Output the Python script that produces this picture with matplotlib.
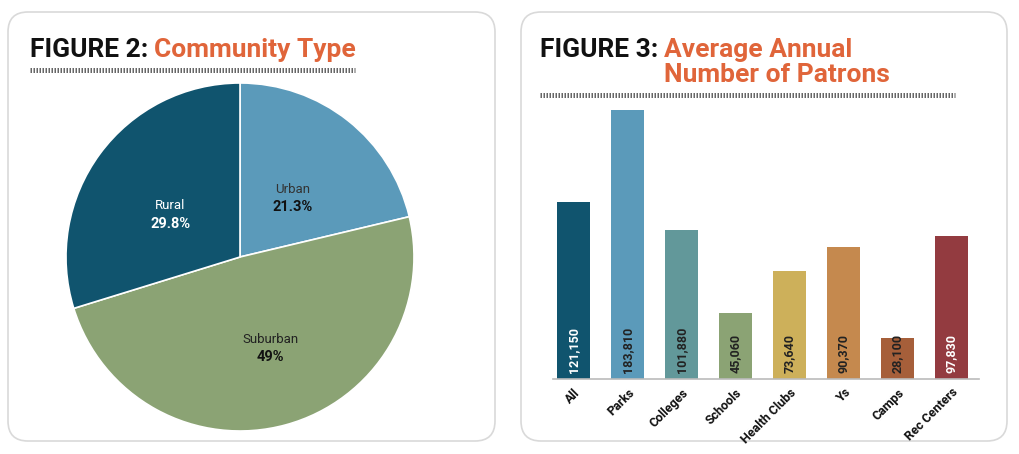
import matplotlib
matplotlib.use("Agg")
import matplotlib.pyplot as plt
from matplotlib.patches import FancyBboxPatch
from matplotlib.lines import Line2D
import numpy as np

plt.rcParams['font.family'] = ['Roboto', 'DejaVu Sans']
plt.rcParams['lines.scale_dashes'] = False

# ---- data ----
pie_labels = ["Urban", "Suburban", "Rural"]
pie_values = [21.3, 49.0, 29.8]
pie_pct_text = ["21.3%", "49%", "29.8%"]
pie_colors = ["#5b9aba", "#8ba374", "#10546e"]
pie_name_colors = ["#333333", "#222222", "#ffffff"]
pie_pct_colors = ["#111111", "#111111", "#ffffff"]

bar_categories = ["All", "Parks", "Colleges", "Schools", "Health Clubs", "Ys", "Camps", "Rec Centers"]
bar_values = [121150, 183810, 101880, 45060, 73640, 90370, 28100, 97830]
bar_colors = ["#10546e", "#5b9aba", "#62989a", "#8ba374", "#cdb05a", "#c5894e", "#a65f3a", "#933b40"]
bar_label_colors = ["#ffffff", "#222222", "#222222", "#222222", "#222222", "#222222", "#222222", "#ffffff"]

W, H = 1020, 454
fig = plt.figure(figsize=(W / 100, H / 100), dpi=100)
fig.patch.set_facecolor("white")

def px_axes(x0, y0, x1, y1):
    return fig.add_axes([x0 / W, 1 - y1 / H, (x1 - x0) / W, (y1 - y0) / H])

# panel boxes
for (x0, y0, x1, y1) in [(8, 12, 495, 441), (521, 12, 1007, 441)]:
    box = FancyBboxPatch((x0 / 100, (H - y1) / 100), (x1 - x0) / 100, (y1 - y0) / 100,
                         boxstyle="round,pad=0,rounding_size=0.2",
                         transform=fig.dpi_scale_trans, facecolor="none",
                         edgecolor="#d9d9d9", linewidth=1.2, zorder=-1)
    fig.patches.append(box)

orange = "#e0653a"
title_font = ['Roboto', 'DejaVu Sans']
title_fs = 19

def fig_text(xp, yp, s, **kw):
    return fig.text(xp / W, 1 - yp / H, s, **kw)

renderer = fig.canvas.get_renderer()

def title_pair(x0, y0, black, orange_lines):
    t = fig_text(x0, y0, black, fontsize=title_fs, fontweight="bold", color="#111111",
                 va="baseline", ha="left", family=title_font)
    bb = t.get_window_extent(renderer)
    xo = bb.x1 + 6
    for k, line in enumerate(orange_lines):
        fig.text(xo / W, 1 - (y0 + 25 * k) / H, line, fontsize=title_fs, fontweight="bold",
                 color=orange, va="baseline", ha="left", family=title_font)

title_pair(30, 57, "FIGURE 2:", ["Community Type"])
title_pair(540, 57, "FIGURE 3:", ["Average Annual", "Number of Patrons"])

for (x0, x1, y) in [(30, 355, 70), (540, 955, 95)]:
    ln = Line2D([x0 / W, x1 / W], [1 - y / H, 1 - y / H], transform=fig.transFigure,
                color="#666666", linewidth=3.6, dashes=(1.08, 1.08),
                dash_capstyle="butt")
    fig.lines.append(ln)

# ---- pie ----
cx, cy, r = 240, 257, 174
axp = px_axes(cx - r, cy - r, cx + r, cy + r)
wedges, _ = axp.pie(pie_values, colors=pie_colors, startangle=90, counterclock=False,
                    wedgeprops=dict(edgecolor="white", linewidth=1.2))
axp.set_xlim(-1, 1)
axp.set_ylim(-1, 1)
axp.set_axis_off()
dists = [0.46, 0.545, 0.472]
ang_off = [-3.2, 3.3, 4.5]
for w, name, pct, nc, pc, d, ao in zip(wedges, pie_labels, pie_pct_text, pie_name_colors,
                                       pie_pct_colors, dists, ang_off):
    ang = np.deg2rad((w.theta1 + w.theta2) / 2 + ao)
    x, y = d * np.cos(ang), d * np.sin(ang) - 0.008
    axp.text(x, y + 0.052, name, ha="center", va="center", fontsize=9.5, color=nc)
    axp.text(x, y - 0.052, pct, ha="center", va="center", fontsize=10.5, fontweight="bold", color=pc)

# ---- bars ----
axb = px_axes(553, 101, 979, 379)
xs = np.arange(len(bar_categories))
axb.bar(xs, bar_values, width=0.61, color=bar_colors)
axb.set_xlim(-0.38, 7.51)
axb.set_ylim(0, 190000)
for s in ["top", "left", "right"]:
    axb.spines[s].set_visible(False)
axb.spines["bottom"].set_color("#bbbbbb")
axb.spines["bottom"].set_linewidth(1.2)
axb.set_yticks([])
axb.set_xticks(xs)
axb.set_xticklabels(bar_categories, rotation=45, ha="right", va="top", rotation_mode="anchor",
                    fontsize=9, fontweight="bold", color="#111111")
axb.tick_params(axis="x", length=0, pad=5)
for x, v, c in zip(xs, bar_values, bar_label_colors):
    axb.annotate(f"{v:,}", (x, 0), xytext=(0, 4), textcoords="offset points",
                 rotation=90, ha="center", va="bottom", fontsize=9, fontweight="bold", color=c)

fig.savefig("out.png", dpi=100, facecolor="white")
